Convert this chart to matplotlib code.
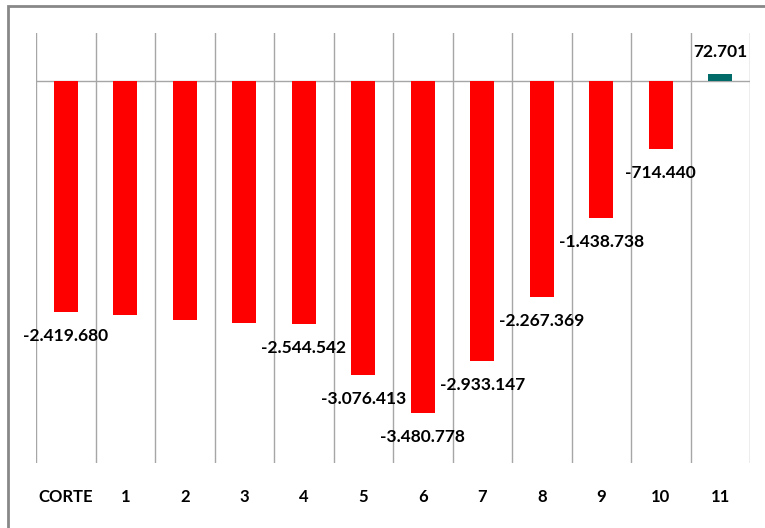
import matplotlib
matplotlib.use("Agg")
import matplotlib.pyplot as plt
from matplotlib.patches import Rectangle

plt.rcParams["font.family"] = ["Lato", "DejaVu Sans"]

categories = ["CORTE", "1", "2", "3", "4", "5", "6", "7", "8", "9", "10", "11"]
values = [-2419680, -2449000, -2508000, -2535000, -2544542, -3076413,
          -3480778, -2933147, -2267369, -1438738, -714440, 72701]
# only some bars carry a label in the source chart
labelled = [True, False, False, False, True, True, True, True, True, True, True, True]

RED, TEAL, GRID = "#ff0000", "#006b68", "#a6a6a6"


def fmt(v):
    s = f"{abs(v):,}".replace(",", ".")
    return ("-" if v < 0 else "") + s


fig = plt.figure(figsize=(7.65, 5.28), dpi=100)
ax = fig.add_axes([36 / 765, 1 - 463 / 528, 714 / 765, 430 / 528])

x = list(range(len(categories)))
colors = [TEAL if v > 0 else RED for v in values]
ax.bar(x, values, width=0.4, color=colors, zorder=3)

ax.set_xlim(-0.5, len(categories) - 0.5)
ax.set_ylim(-4000000, 500000)
ax.set_xticks([i - 0.5 for i in range(len(categories) + 1)], minor=True)
ax.grid(True, which="minor", axis="x", color=GRID, lw=1.0, zorder=1)
ax.axhline(0, color=GRID, lw=1.0, zorder=2)
ax.set_yticks([])
for sp in ax.spines.values():
    sp.set_visible(False)
ax.set_xticks(x)
ax.set_xticklabels(categories, fontsize=12, fontweight="bold")
ax.tick_params(axis="x", which="both", length=0, pad=19)

for xi, v, show in zip(x, values, labelled):
    if not show:
        continue
    off = 22 if v > 0 else -24
    ax.annotate(fmt(v), (xi, v), xytext=(0, off), textcoords="offset pixels",
                ha="center", va="center", fontsize=12.5, fontweight="bold",
                color="black", zorder=4)

# chart area border (cut off on the right and bottom in the source)
fig.patches.append(Rectangle((8 / 765, -0.05), 1.1, 1 - 6 / 528 + 0.05,
                             transform=fig.transFigure, fill=False,
                             edgecolor="#888888", lw=2.0))

fig.savefig("out.png", dpi=100)
